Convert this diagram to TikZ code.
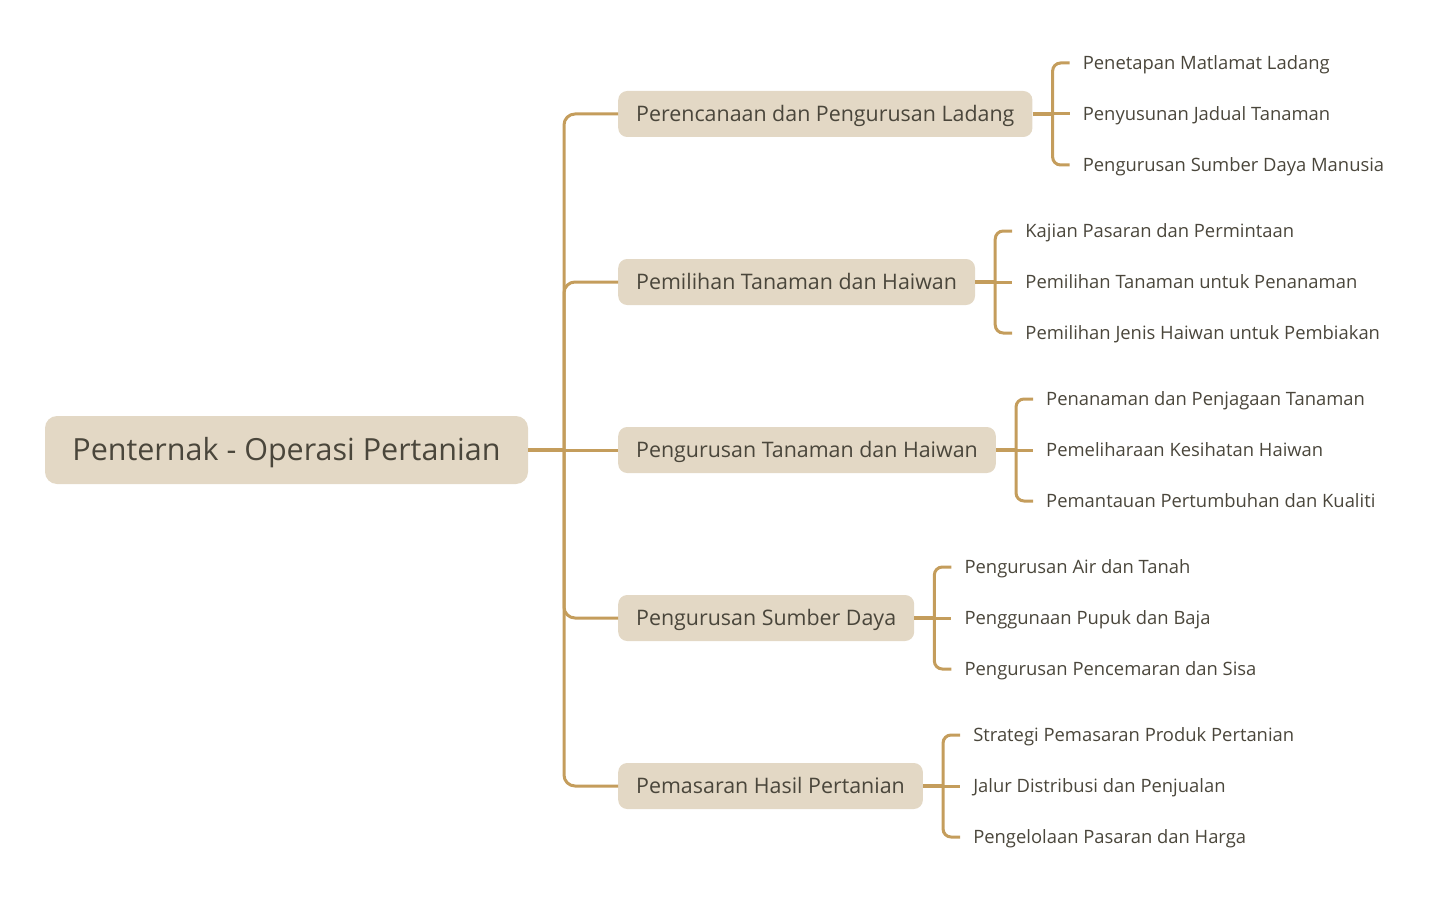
\documentclass[tikz,border=0pt]{standalone}
\usepackage{fontspec}
\setmainfont{Open Sans}
\usepackage{tikz}
\usetikzlibrary{positioning,calc}
\definecolor{boxfill}{HTML}{E3D8C5}
\definecolor{linkcol}{HTML}{C49D5C}
\definecolor{txtcol}{HTML}{4A463B}
\tikzset{
  rootbox/.style={fill=boxfill, rounded corners=12pt, minimum width=483pt, minimum height=68pt,
                  text=txtcol, font=\fontsize{30.5}{34}\selectfont, inner sep=0pt,
                  text height=21.8pt, text depth=0pt},
  topicbox/.style={fill=boxfill, rounded corners=9pt, anchor=west, minimum height=46pt, inner xsep=18pt,
                   inner ysep=0pt, text=txtcol, font=\fontsize{21.4}{25}\selectfont,
                   text height=15.3pt, text depth=0pt},
  leaf/.style={anchor=west, inner xsep=13pt, inner ysep=0pt, text=txtcol, font=\fontsize{18.4}{22}\selectfont,
               text height=13.1pt, text depth=0pt},
  link/.style={draw=linkcol, line width=3pt},
  thick link/.style={draw=linkcol, line width=3.8pt},
  curvelink/.style={link, rounded corners=11pt}
}
\begin{document}
\begin{tikzpicture}[x=1pt, y=-1pt]
\useasboundingbox (0,0) rectangle (1449,915);
% central topic
\node[rootbox] (root) at (286.5,450) {Penternak - Operasi Pertanian};
% main branches
\node[topicbox] (b1) at (618,114) {Perencanaan dan Pengurusan Ladang};
\node[topicbox] (b2) at (618,282) {Pemilihan Tanaman dan Haiwan};
\node[topicbox] (b3) at (618,450) {Pengurusan Tanaman dan Haiwan};
\node[topicbox] (b4) at (618,618) {Pengurusan Sumber Daya};
\node[topicbox] (b5) at (618,786) {Pemasaran Hasil Pertanian};
\coordinate (trunk) at (564,450);
\draw[thick link] (root.east) -- (trunk);
\draw[link] (trunk) -- (b3.west);
\draw[curvelink] (b1.west) -| (trunk) |- (b5.west);
\draw[curvelink] (b2.west) -| (trunk);
\draw[curvelink] (b4.west) -| (trunk);
% sub topics
\node[leaf] (l11) at ($(b1.east)+(37,-51)$) {Penetapan Matlamat Ladang};
\node[leaf] (l12) at ($(b1.east)+(37,0)$) {Penyusunan Jadual Tanaman};
\node[leaf] (l13) at ($(b1.east)+(37,51)$) {Pengurusan Sumber Daya Manusia};
\node[leaf] (l21) at ($(b2.east)+(37,-51)$) {Kajian Pasaran dan Permintaan};
\node[leaf] (l22) at ($(b2.east)+(37,0)$) {Pemilihan Tanaman untuk Penanaman};
\node[leaf] (l23) at ($(b2.east)+(37,51)$) {Pemilihan Jenis Haiwan untuk Pembiakan};
\node[leaf] (l31) at ($(b3.east)+(37,-51)$) {Penanaman dan Penjagaan Tanaman};
\node[leaf] (l32) at ($(b3.east)+(37,0)$) {Pemeliharaan Kesihatan Haiwan};
\node[leaf] (l33) at ($(b3.east)+(37,51)$) {Pemantauan Pertumbuhan dan Kualiti};
\node[leaf] (l41) at ($(b4.east)+(37,-51)$) {Pengurusan Air dan Tanah};
\node[leaf] (l42) at ($(b4.east)+(37,0)$) {Penggunaan Pupuk dan Baja};
\node[leaf] (l43) at ($(b4.east)+(37,51)$) {Pengurusan Pencemaran dan Sisa};
\node[leaf] (l51) at ($(b5.east)+(37,-51)$) {Strategi Pemasaran Produk Pertanian};
\node[leaf] (l52) at ($(b5.east)+(37,0)$) {Jalur Distribusi dan Penjualan};
\node[leaf] (l53) at ($(b5.east)+(37,51)$) {Pengelolaan Pasaran dan Harga};
\coordinate (k1) at ($(b1.east)+(20,0)$);
\coordinate (k2) at ($(b2.east)+(20,0)$);
\coordinate (k3) at ($(b3.east)+(20,0)$);
\coordinate (k4) at ($(b4.east)+(20,0)$);
\coordinate (k5) at ($(b5.east)+(20,0)$);
\draw[thick link] (b1.east) -- (k1); \draw[link] (k1) -- (l12.west);
\draw[thick link] (b2.east) -- (k2); \draw[link] (k2) -- (l22.west);
\draw[thick link] (b3.east) -- (k3); \draw[link] (k3) -- (l32.west);
\draw[thick link] (b4.east) -- (k4); \draw[link] (k4) -- (l42.west);
\draw[thick link] (b5.east) -- (k5); \draw[link] (k5) -- (l52.west);
\draw[curvelink, rounded corners=8pt] (l11.west) -| (k1) |- (l13.west);
\draw[curvelink, rounded corners=8pt] (l21.west) -| (k2) |- (l23.west);
\draw[curvelink, rounded corners=8pt] (l31.west) -| (k3) |- (l33.west);
\draw[curvelink, rounded corners=8pt] (l41.west) -| (k4) |- (l43.west);
\draw[curvelink, rounded corners=8pt] (l51.west) -| (k5) |- (l53.west);
\end{tikzpicture}
\end{document}
